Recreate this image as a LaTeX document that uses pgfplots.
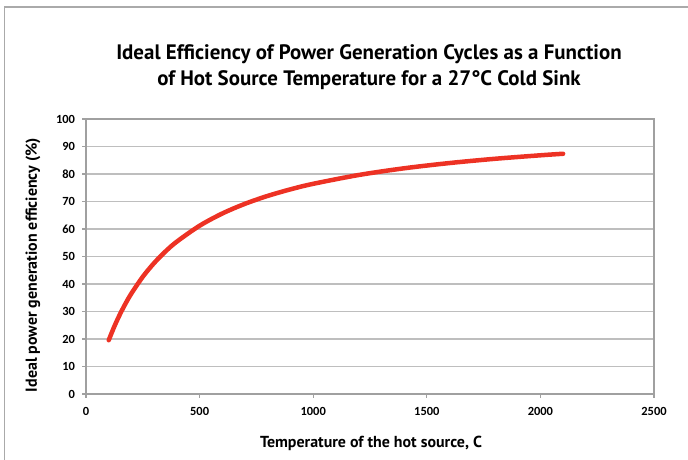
\documentclass[border=0pt]{standalone}
\usepackage{pgfplots}
\pgfplotsset{compat=1.18}
\usepackage{fontspec}
\setmainfont{PT Sans}
\newfontfamily\tickfont{Carlito}
\definecolor{curvered}{RGB}{237,50,36}
\definecolor{axisgray}{RGB}{160,160,160}
\definecolor{gridgray}{RGB}{190,190,190}
\definecolor{framegray}{RGB}{170,170,170}
\begin{document}
\begin{tikzpicture}[x=1bp,y=1bp]
\path[use as bounding box] (0,0) rectangle (688,460);
\draw[framegray, line width=1.5bp] (4.5,0) -- (4.5,453) -- (688,453);
\begin{axis}[
  at={(86bp,66bp)}, anchor=south west,
  scale only axis, width=568bp, height=275bp,
  xmin=0, xmax=2500, ymin=0, ymax=100,
  xtick={0,500,...,2500}, ytick={0,10,...,100},
  ymajorgrids, grid style={gridgray, line width=1.2bp},
  axis line style={axisgray, line width=1.2bp},
  tick style={axisgray, line width=1.2bp},
  tick align=outside, major tick length=4bp,
  xtick pos=bottom, ytick pos=left,
  ticklabel style={font=\tickfont\bfseries\fontsize{12.5}{14}\selectfont, text=black},
  /pgf/number format/assume math mode=true,
  /pgf/number format/1000 sep={},
  xticklabel style={yshift=-6bp},
  yticklabel style={xshift=-3.5bp},
]
\addplot[curvered, line width=4.5bp, line cap=round, smooth, tension=0.5] coordinates {
(100,19.57) (125,24.62) (150,29.08) (175,33.04) (200,36.58) (250,42.64) (300,47.64) (350,51.85) (400,55.42) (500,61.19) (600,65.64) (700,69.17) (800,72.04) (900,74.42) (1000,76.43) (1200,79.63) (1400,82.07) (1600,83.98) (1800,85.53) (2000,86.80) (2100,87.36)
};
\end{axis}
\node[font=\bfseries\fontsize{21}{26}\selectfont, align=center] at (369,393) {Ideal Efficiency of Power Generation Cycles as a Function\\of Hot Source Temperature for a 27\textdegree C Cold Sink};
\node[font=\bfseries\fontsize{16}{18}\selectfont] at (371,17) {Temperature of the hot source, C};
\node[font=\bfseries\fontsize{16}{18}\selectfont, rotate=90] at (33,195) {Ideal power generation efficiency (\%)};
\end{tikzpicture}
\end{document}
